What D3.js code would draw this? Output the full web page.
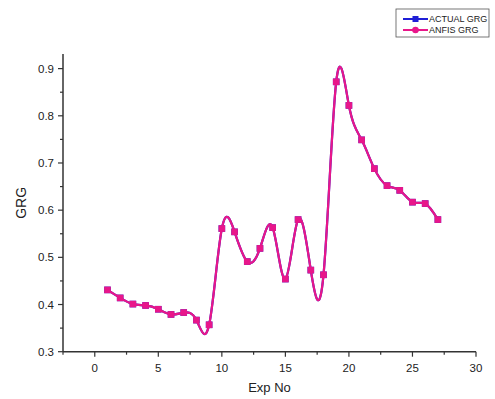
<!DOCTYPE html>
<html>
<head>
<meta charset="utf-8">
<script src="https://cdn.jsdelivr.net/npm/d3@7"></script>
<style>
  body { margin: 0; background: #fff; }
  svg { font-family: "Liberation Sans", Arial, sans-serif; }
</style>
</head>
<body>
<svg id="chart" width="495" height="399"></svg>
<script>
const expNo = d3.range(1, 28);
const actualGrg = [0.431, 0.414, 0.401, 0.398, 0.390, 0.379, 0.383, 0.367, 0.357,
  0.561, 0.554, 0.491, 0.519, 0.563, 0.454, 0.580, 0.473, 0.463, 0.872,
  0.822, 0.749, 0.688, 0.652, 0.642, 0.617, 0.614, 0.580];
const anfisGrg = [0.431, 0.414, 0.401, 0.398, 0.390, 0.379, 0.383, 0.367, 0.357,
  0.561, 0.554, 0.491, 0.519, 0.563, 0.454, 0.580, 0.473, 0.463, 0.872,
  0.822, 0.749, 0.688, 0.652, 0.642, 0.617, 0.614, 0.580];
const xTicks = [0, 5, 10, 15, 20, 25, 30];
const yTicks = [0.3, 0.4, 0.5, 0.6, 0.7, 0.8, 0.9];
const seriesNames = ["ACTUAL GRG", "ANFIS GRG"];

const blue = "#1f1fd6";
const pink = "#e8168a";
const axisColor = "#333";

const svg = d3.select("#chart");

const x = d3.scaleLinear().domain([-2.5, 30]).range([63, 476]);
const y = d3.scaleLinear().domain([0.3, 0.931]).range([351.7, 54]);

// axes
const xAxis = svg.append("g").attr("transform", `translate(0,${y(0.3)})`);
xAxis.append("line").attr("x1", x(-2.5)).attr("x2", x(30)).attr("stroke", axisColor).attr("stroke-width", 1.5);
xAxis.selectAll(".minor").data(d3.range(-2.5, 30.1, 2.5)).join("line")
  .attr("x1", d => x(d)).attr("x2", d => x(d))
  .attr("y1", 0).attr("y2", d => xTicks.includes(d) ? 5 : 3)
  .attr("stroke", axisColor).attr("stroke-width", 1.2);
xAxis.selectAll("text").data(xTicks).join("text")
  .attr("x", d => x(d)).attr("y", 20)
  .attr("text-anchor", "middle").attr("font-size", 11.5).attr("fill", "#222")
  .text(d => d);

const yAxis = svg.append("g").attr("transform", `translate(${x(-2.5)},0)`);
yAxis.append("line").attr("y1", y(0.3)).attr("y2", y(0.931)).attr("stroke", axisColor).attr("stroke-width", 1.5);
yAxis.selectAll(".minor").data(d3.range(0.3, 0.93, 0.05)).join("line")
  .attr("y1", d => y(d)).attr("y2", d => y(d))
  .attr("x1", 0).attr("x2", (d, i) => i % 2 === 0 ? -5 : -3)
  .attr("stroke", axisColor).attr("stroke-width", 1.2);
yAxis.selectAll("text").data(yTicks).join("text")
  .attr("x", -9).attr("y", d => y(d)).attr("dy", "0.35em")
  .attr("text-anchor", "end").attr("font-size", 11.5).attr("fill", "#222")
  .text(d => d.toFixed(1));

svg.append("text")
  .attr("transform", `translate(26,${(y(0.3) + y(0.931)) / 2}) rotate(-90)`)
  .attr("text-anchor", "middle").attr("font-size", 14).attr("fill", "#222")
  .text("GRG");
svg.append("text")
  .attr("x", x(13.75)).attr("y", 392)
  .attr("text-anchor", "middle").attr("font-size", 13).attr("fill", "#222")
  .text("Exp No");

// series
const line = d3.line().x((d, i) => x(expNo[i])).y(d => y(d)).curve(d3.curveNatural);

function drawSeries(values, color) {
  const g = svg.append("g");
  g.append("path").datum(values).attr("d", line)
    .attr("fill", "none").attr("stroke", color).attr("stroke-width", 2.2);
  g.selectAll("rect").data(values).join("rect")
    .attr("x", (d, i) => x(expNo[i]) - 3.3).attr("y", d => y(d) - 3.3)
    .attr("width", 6.6).attr("height", 6.6).attr("fill", color);
}
drawSeries(actualGrg, blue);
drawSeries(anfisGrg, pink);

// legend
const legend = svg.append("g");
legend.append("rect").attr("x", 396).attr("y", 9).attr("width", 93).attr("height", 28)
  .attr("fill", "#fff").attr("stroke", "#555").attr("stroke-width", 0.8);
const colors = [blue, pink];
seriesNames.forEach((name, i) => {
  const ly = 19 + i * 11;
  legend.append("line").attr("x1", 403).attr("x2", 428).attr("y1", ly).attr("y2", ly)
    .attr("stroke", colors[i]).attr("stroke-width", 2);
  if (i === 0) {
    legend.append("rect").attr("x", 412.5).attr("y", ly - 3).attr("width", 6).attr("height", 6).attr("fill", colors[i]);
  } else {
    legend.append("circle").attr("cx", 415.5).attr("cy", ly).attr("r", 3.3).attr("fill", colors[i]);
  }
  legend.append("text").attr("x", 429).attr("y", ly).attr("dy", "0.35em")
    .attr("font-size", 9).attr("fill", "#222").text(name);
});
</script>
</body>
</html>
